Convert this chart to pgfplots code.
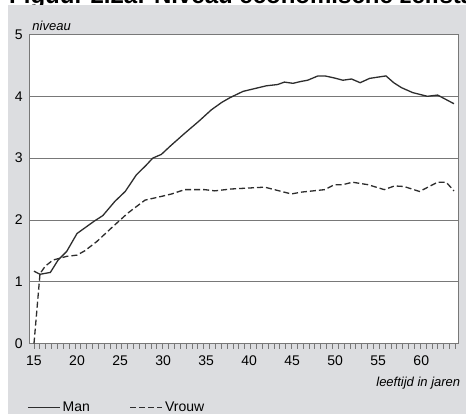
\documentclass[border=0pt]{standalone}
\usepackage{fontspec}
\setmainfont{Liberation Sans}
\usepackage{pgfplots}
\pgfplotsset{compat=1.18}
\definecolor{bggray}{RGB}{220,221,224}
\definecolor{axgray}{RGB}{120,120,120}
\definecolor{linecol}{RGB}{45,45,45}
\begin{document}
\begin{tikzpicture}[x=1pt,y=1pt]
\fill[white] (0,-27) rectangle (466,388);
\begin{scope}
\clip (0,-27) rectangle (466,388);
\node[anchor=base west, font=\fontsize{24}{28}\selectfont\bfseries, inner sep=0] at (9,384) {Figuur 2.2a: Niveau economische zelfstandigheid};
\end{scope}
\fill[bggray] (8,-26.5) rectangle (466,382.5);
\begin{axis}[
  at={(34,72)}, anchor=south west,
  width=429pt, height=309pt, scale only axis,
  xmin=14.45, xmax=64.3, ymin=0, ymax=5,
  axis background/.style={fill=white},
  axis line style={draw=axgray, line width=1.1pt},
  xtick={15,20,...,60}, ytick={0,1,...,5},
  xtick pos=bottom, ytick pos=left,
  major tick length=0pt,
  minor xtick={15,15.68,...,64.3},
  minor tick length=5pt,
  tick align=outside,
  minor tick style={draw=axgray, line width=0.8pt},
  ymajorgrids, grid style={draw=axgray, line width=0.8pt},
  tick label style={font=\fontsize{14}{16}\selectfont},
  /pgf/number format/assume math mode=true,
  yticklabel style={xshift=-3pt},
  xticklabel style={yshift=-9pt},
  clip=false,
  legend columns=2,
  legend style={at={(-0.005,-0.206)}, anchor=west, draw=none, fill=none,
    font=\fontsize{14}{16}\selectfont, inner sep=0pt,
    /tikz/every even column/.append style={column sep=38pt}},
  legend image code/.code={\draw[#1] (0pt,0pt) -- (32pt,0pt);},
]
\addplot[linecol, line width=1.3pt] coordinates {
(15.0,1.17) (15.7,1.12) (16.9,1.15) (17.8,1.35) (18.8,1.49) (20.0,1.78)
(21.1,1.89) (22.0,1.98) (23.0,2.07) (24.4,2.30) (25.6,2.46) (26.9,2.73)
(28.0,2.88) (28.8,3.00) (29.8,3.06) (30.8,3.19) (32.5,3.40) (34.1,3.59)
(35.6,3.78) (36.8,3.90) (37.8,3.98) (39.3,4.08) (40.5,4.12) (42.0,4.17)
(43.3,4.19) (44.1,4.23) (45.1,4.21) (46.0,4.24) (46.8,4.26) (48.0,4.33)
(48.8,4.33) (49.8,4.30) (50.9,4.26) (51.9,4.28) (52.9,4.22) (54.0,4.29)
(55.9,4.33) (56.8,4.22) (57.7,4.14) (59.0,4.06) (60.7,4.00) (61.9,4.02)
(63.8,3.88)
};
\addlegendentry{Man}
\addplot[linecol, line width=1.3pt, dash pattern=on 6pt off 3pt] coordinates {
(15.0,0.0) (15.7,1.13) (16.3,1.25) (17.2,1.35) (18.8,1.41) (20.0,1.43)
(20.9,1.50) (22.3,1.65) (24.0,1.87) (25.9,2.11) (27.9,2.32) (29.8,2.38)
(31.0,2.42) (32.5,2.49) (34.8,2.49) (36.0,2.47) (37.9,2.50) (41.8,2.53)
(44.9,2.42) (46.1,2.45) (48.8,2.49) (49.9,2.57) (50.9,2.57) (52.0,2.61)
(53.8,2.57) (55.7,2.49) (56.9,2.55) (58.0,2.54) (59.8,2.46) (61.9,2.61)
(62.9,2.61) (63.8,2.47)
};
\addlegendentry{Vrouw}
\node[anchor=base west, font=\fontsize{13}{15}\selectfont\itshape, inner sep=0]
  at (rel axis cs:0.007,1) [yshift=4pt] {niveau};
\node[anchor=base east, font=\fontsize{13}{15}\selectfont\itshape, inner sep=0]
  at (rel axis cs:1.005,-0.14) {leeftijd in jaren};
\end{axis}
\pgfresetboundingbox
\path[use as bounding box] (0,-27) rectangle (466,388);
\end{tikzpicture}
\end{document}
